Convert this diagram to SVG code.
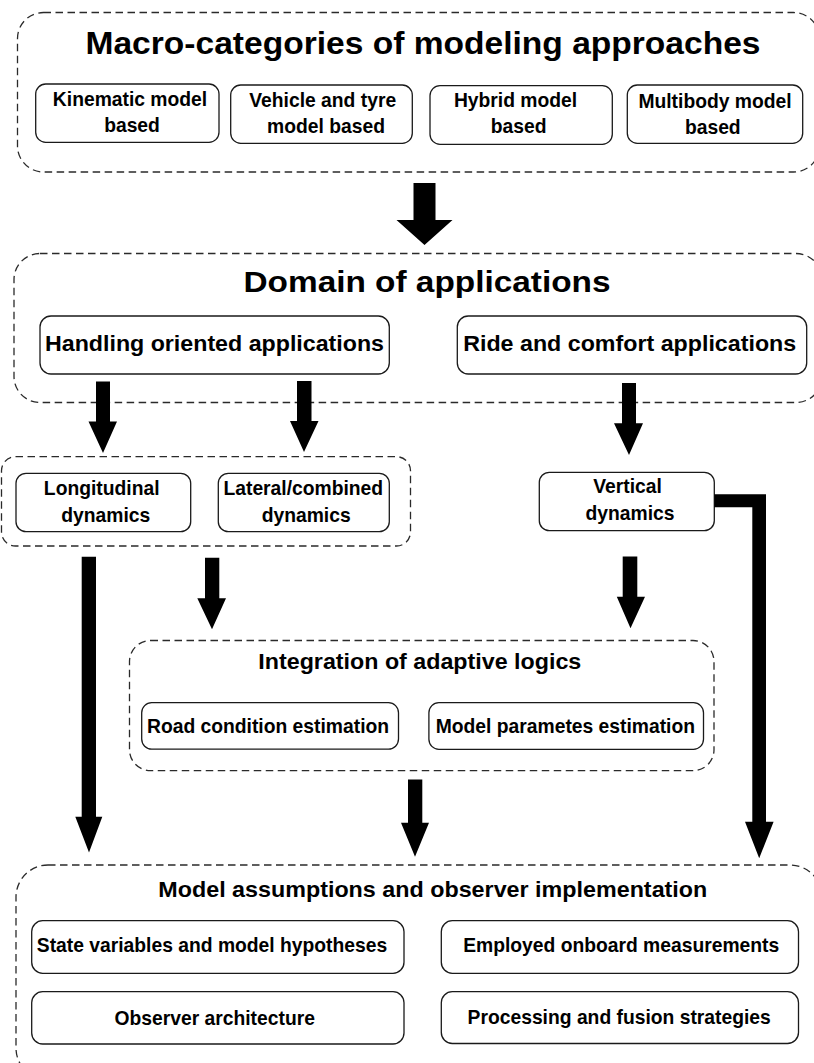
<svg xmlns="http://www.w3.org/2000/svg" width="814" height="1063" viewBox="0 0 814 1063">
<style>
.bg{fill:#ffffff}
.cont{fill:none;stroke:#2a2a2a;stroke-width:1.3;stroke-dasharray:7.5 4.5}
.box{fill:#ffffff;stroke:#1a1a1a;stroke-width:1.3}
.t{font-family:"Liberation Sans",Arial,sans-serif;font-weight:bold;fill:#000;text-anchor:middle}
.s{font-size:19.3px}
.arr{fill:#000;stroke:none}
</style>
<rect class="bg" x="0" y="0" width="814" height="1063"/>

<g id="macro-categories">
  <rect class="cont" x="17.5" y="12.5" width="802" height="159.5" rx="26"/>
  <text class="t" x="423" y="54" font-size="31" textLength="675" lengthAdjust="spacingAndGlyphs">Macro-categories of modeling approaches</text>
</g>
<g id="kinematic">
  <rect class="box" x="35.7" y="84" width="183.3" height="58.3" rx="10"/>
  <text class="t s" x="130" y="106">Kinematic model</text>
  <text class="t s" x="132" y="132">based</text>
</g>
<g id="vehicle-tyre">
  <rect class="box" x="230.7" y="85" width="181.6" height="58.3" rx="10"/>
  <text class="t s" x="322.7" y="107">Vehicle and tyre</text>
  <text class="t s" x="326" y="133">model based</text>
</g>
<g id="hybrid">
  <rect class="box" x="430" y="85.7" width="182.3" height="58.6" rx="10"/>
  <text class="t s" x="515.5" y="107">Hybrid model</text>
  <text class="t s" x="518.7" y="133">based</text>
</g>
<g id="multibody">
  <rect class="box" x="627.3" y="85" width="175.4" height="58.3" rx="10"/>
  <text class="t s" x="715" y="108.3">Multibody model</text>
  <text class="t s" x="712.8" y="134">based</text>
</g>

<g id="domain">
  <rect class="cont" x="14" y="253.5" width="808" height="149" rx="26"/>
  <text class="t" x="427" y="292.3" font-size="30" textLength="367" lengthAdjust="spacingAndGlyphs">Domain of applications</text>
</g>
<g id="handling">
  <rect class="box" x="40" y="316" width="349.3" height="58" rx="11"/>
  <text class="t" x="214.5" y="351" font-size="22" textLength="339" lengthAdjust="spacingAndGlyphs">Handling oriented applications</text>
</g>
<g id="ride-comfort">
  <rect class="box" x="457.3" y="316" width="349.4" height="58" rx="11"/>
  <text class="t" x="629.7" y="351" font-size="22" textLength="333" lengthAdjust="spacingAndGlyphs">Ride and comfort applications</text>
</g>

<g id="handling-group">
  <rect class="cont" x="1.5" y="456.7" width="409" height="89.3" rx="14"/>
</g>
<g id="longitudinal">
  <rect class="box" x="16" y="473.3" width="174.7" height="58.4" rx="10"/>
  <text class="t s" x="101.7" y="495">Longitudinal</text>
  <text class="t s" x="105.8" y="521.7">dynamics</text>
</g>
<g id="lateral">
  <rect class="box" x="218.3" y="473.3" width="171" height="58.4" rx="10"/>
  <text class="t s" x="303.3" y="495">Lateral/combined</text>
  <text class="t s" x="306.2" y="521.7">dynamics</text>
</g>
<g id="vertical">
  <rect class="box" x="539.3" y="472.3" width="175" height="58.4" rx="10"/>
  <text class="t s" x="627.5" y="493.3">Vertical</text>
  <text class="t s" x="630" y="520">dynamics</text>
</g>

<g id="adaptive-logics">
  <rect class="cont" x="129.5" y="640.5" width="584.5" height="130.2" rx="21"/>
  <text class="t" x="419.8" y="669" font-size="22.5" textLength="323" lengthAdjust="spacingAndGlyphs">Integration of adaptive logics</text>
</g>
<g id="road-condition">
  <rect class="box" x="141.7" y="702.7" width="256.8" height="46.4" rx="10"/>
  <text class="t s" x="268" y="733.3">Road condition estimation</text>
</g>
<g id="model-parameters">
  <rect class="box" x="428.9" y="702.7" width="274.6" height="46.6" rx="10"/>
  <text class="t s" x="565.4" y="733">Model parametes estimation</text>
</g>

<g id="model-assumptions">
  <rect class="cont" x="16" y="865" width="806" height="215" rx="32"/>
  <text class="t" x="432.8" y="897" font-size="22.5" textLength="549" lengthAdjust="spacingAndGlyphs">Model assumptions and observer implementation</text>
</g>
<g id="state-variables">
  <rect class="box" x="31.7" y="920.7" width="372.3" height="52.6" rx="11"/>
  <text class="t s" x="212" y="952.3">State variables and model hypotheses</text>
</g>
<g id="onboard-measurements">
  <rect class="box" x="441.3" y="920.7" width="357.2" height="52.6" rx="11"/>
  <text class="t s" x="621.2" y="952.3">Employed onboard measurements</text>
</g>
<g id="observer-architecture">
  <rect class="box" x="31.7" y="991.7" width="372.3" height="52.3" rx="11"/>
  <text class="t s" x="214.7" y="1025">Observer architecture</text>
</g>
<g id="processing-fusion">
  <rect class="box" x="441.3" y="991.7" width="357.2" height="51.8" rx="11"/>
  <text class="t s" x="619.2" y="1024">Processing and fusion strategies</text>
</g>

<g id="connectors">
  <polygon class="arr" points="413.5,183 435.5,183 435.5,220 452.5,220 424.5,245 396.5,220 413.5,220"/>
  <polygon class="arr" points="96,381.5 110,381.5 110,421.5 117,421.5 103,453 88.5,421.5 96,421.5"/>
  <polygon class="arr" points="297,381 311.5,381 311.5,421 318.5,421 304,452 290,421 297,421"/>
  <polygon class="arr" points="622,383 636,383 636,423.3 643,423.3 629,455 614,423.3 622,423.3"/>
  <polygon class="arr" points="81.7,556.7 96,556.7 96,816.7 102.3,816.7 89,852.5 75.3,816.7 81.7,816.7"/>
  <polygon class="arr" points="205,557.7 219.3,557.7 219.3,598.3 226,598.3 212,629.3 197.3,598.3 205,598.3"/>
  <polygon class="arr" points="622.7,556.5 637.3,556.5 637.3,596.7 645,596.7 630.5,628.3 616.8,596.7 622.7,596.7"/>
  <polygon class="arr" points="408,779.5 422.3,779.5 422.3,822.7 429,822.7 415,856.7 401,822.7 408,822.7"/>
  <polygon class="arr" points="714.3,494.3 766,494.3 766,821.7 773.6,821.7 759.2,858.3 745,821.7 752.3,821.7 752.3,507.3 714.3,507.3"/>
</g>
</svg>
